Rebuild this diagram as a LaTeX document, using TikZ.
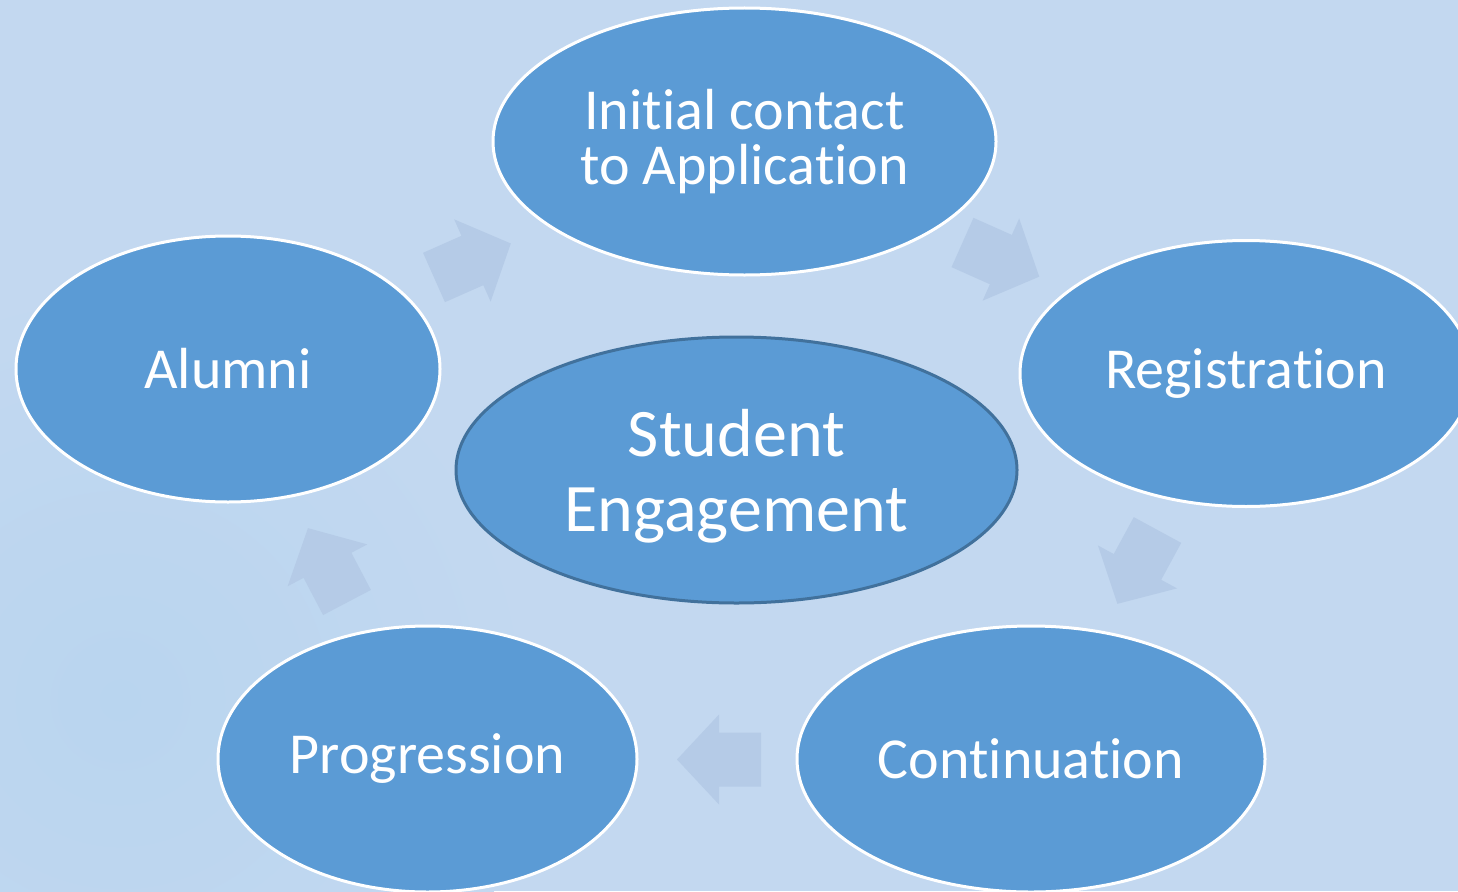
\documentclass[tikz,border=0pt]{standalone}
\usepackage{fontspec}
\setmainfont[Ligatures={NoCommon}]{Carlito}
\usetikzlibrary{shapes.geometric}
\definecolor{bgblue}{RGB}{195,216,240}
\definecolor{bgspot}{RGB}{185,213,239}
\definecolor{stagefill}{RGB}{91,155,213}
\definecolor{hubline}{RGB}{65,113,156}
\definecolor{flowarrow}{RGB}{181,203,231}
\tikzset{
  stage/.style={ellipse, fill=stagefill, draw=white, line width=3pt, inner sep=0pt,
    text=white, font=\fontsize{58}{55}\selectfont, align=center},
  hub/.style={stage, draw=hubline, font=\fontsize{68}{75}\selectfont},
  flowpoly/.style={fill=flowarrow, draw=none}
}
% block arrow: tail midpoint, visual angle
\newcommand\flowblock[2]{%
  \begin{scope}[shift={#1}, rotate=#2]
    \fill[flowpoly] (0,-27) -- (42,-27) -- (42,-45) -- (84,0) -- (42,45) -- (42,27) -- (0,27) -- cycle;
  \end{scope}}
\begin{document}
\begin{tikzpicture}[x=1pt, y=-1pt]
  \useasboundingbox (0,0) rectangle (1458,891);
  \clip (0,0) rectangle (1458,891);
  \fill[bgblue] (0,0) rectangle (1458,891);
  \shade[inner color=bgspot, outer color=bgblue] (120,700) circle (420);

  % cycle arrows
  \flowblock{(434,277.5)}{23.9}
  \flowblock{(962.5,242.5)}{-24}
  \flowblock{(1157.5,530)}{-118.5}
  \flowblock{(761,759.5)}{180}
  \flowblock{(347,602.5)}{117.7}

  % stages
  \node[stage, minimum width=503pt, minimum height=267pt] (contact) at (744.5,141.5) {Initial contact\\to Application};
  \node[stage, minimum width=452pt, minimum height=266pt] (registration) at (1246,373.5) {Registration};
  \node[stage, minimum width=468pt, minimum height=266pt] (continuation) at (1031,759) {Continuation};
  \node[stage, minimum width=419pt, minimum height=266pt] (progression) at (427.5,759) {Progression};
  \node[stage, minimum width=424pt, minimum height=266pt] (alumni) at (228,369) {Alumni};
  \node[hub, minimum width=561pt, minimum height=266pt] (hub) at (736.5,470) {};
  \node[text=white, font=\fontsize{68}{75}\selectfont, align=center, inner sep=0pt] (hublabel) at (736.5,476) {Student\\Engagement};
\end{tikzpicture}
\end{document}
